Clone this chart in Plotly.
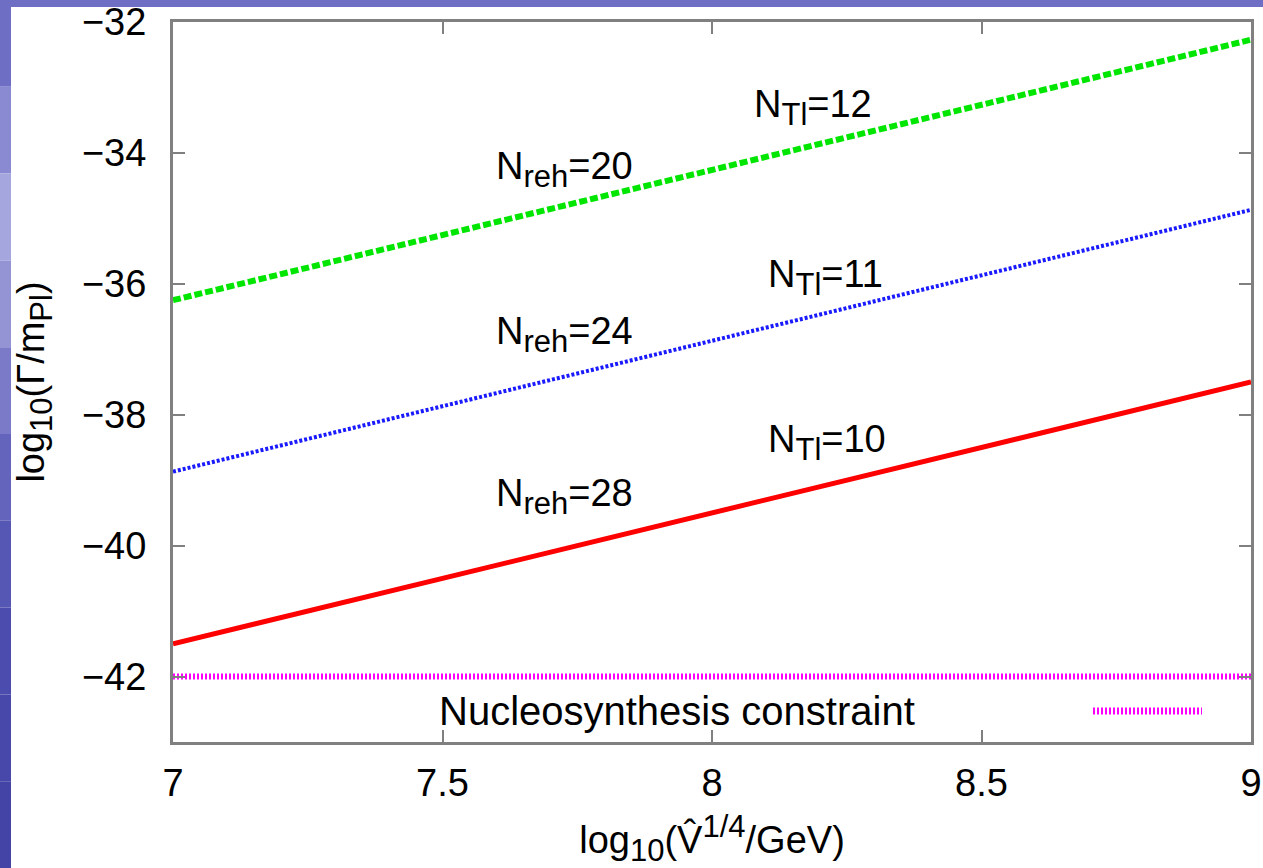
import plotly.graph_objects as go

# ---- data ----
x_vals = [7.0, 9.0]
green_n12 = [-36.25, -32.27]
blue_n11 = [-38.87, -34.87]
red_n10 = [-41.5, -37.5]
bbn_x = [7.0, 9.0]
bbn_y = [-42.0, -42.0]

x_ticks = [7, 7.5, 8, 8.5, 9]
x_tick_text = ["7", "7.5", "8", "8.5", "9"]
y_ticks = [-32, -34, -36, -38, -40, -42]


def sub(t):
    return "<sub><span style='font-size:31px'>" + t + "</span></sub>"


def sup(t):
    return "<sup><span style='font-size:31px'>" + t + "</span></sup>"


labels = [
    # (x, y, text)
    (7.595, -34.25, "N" + sub("reh") + "=20"),
    (8.075, -33.3, "N" + sub("Tl") + "=12"),
    (7.595, -36.77, "N" + sub("reh") + "=24"),
    (8.1, -35.9, "N" + sub("Tl") + "=11"),
    (7.595, -39.25, "N" + sub("reh") + "=28"),
    (8.1, -38.42, "N" + sub("Tl") + "=10"),
]

FONT = "Liberation Sans, Arial, sans-serif"
FS = 38

L, R, T, B = 173, 12, 22, 126
PW = 1263 - L - R
PH = 868 - T - B

fig = go.Figure()
fig.add_trace(go.Scatter(x=x_vals, y=green_n12, mode="lines",
                         line=dict(color="#00e600", width=6, dash="8px,3px"),
                         showlegend=False))
fig.add_trace(go.Scatter(x=x_vals, y=blue_n11, mode="lines",
                         line=dict(color="#1a1aff", width=4, dash="3px,2px"),
                         showlegend=False))
fig.add_trace(go.Scatter(x=x_vals, y=red_n10, mode="lines",
                         line=dict(color="#ff0000", width=5),
                         showlegend=False))
fig.add_trace(go.Scatter(x=bbn_x, y=bbn_y, mode="lines",
                         line=dict(color="#ff00ff", width=6, dash="2px,2px"),
                         showlegend=False))

annotations = []
for (lx, ly, t) in labels:
    annotations.append(dict(x=lx, y=ly, xref="x", yref="y", text=t,
                            showarrow=False, xanchor="left", yanchor="middle",
                            font=dict(family=FONT, size=FS, color="black")))
annotations.append(dict(x=(917 - L) / PW, y=1 - (711 - T) / PH,
                        xref="paper", yref="paper",
                        text="Nucleosynthesis constraint", showarrow=False,
                        xanchor="right", yanchor="middle",
                        font=dict(family=FONT, size=40, color="black")))

shapes = []
# background (blue slide frame with white slide area)
bands = ["#6e6ec4", "#8a8ad2", "#a6a6de", "#9494d4", "#7a7ac8", "#6464bc",
         "#5656b4", "#4c4cae", "#4848aa", "#4444a6"]
n = len(bands)
for i, c in enumerate(bands):
    y_top = -i * 868 / n
    y_bot = -(i + 1) * 868 / n
    shapes.append(dict(type="rect", xref="paper", yref="paper",
                       x0=-L / PW, x1=(1263 - L) / PW,
                       y0=1 + (T + y_bot) / PH, y1=1 + (T + y_top) / PH,
                       fillcolor=c, line=dict(width=0), layer="below"))
shapes.append(dict(type="rect", xref="paper", yref="paper",
                   x0=(11 - L) / PW, x1=(1263 - L) / PW,
                   y0=-B / PH, y1=1 + (T - 7) / PH,
                   fillcolor="white", line=dict(width=0), layer="below"))
# legend sample
shapes.append(dict(type="line", xref="paper", yref="paper",
                   x0=(1093 - L) / PW, x1=(1202 - L) / PW,
                   y0=1 - (711 - T) / PH, y1=1 - (711 - T) / PH,
                   line=dict(color="#ff00ff", width=7, dash="2px,2px")))

axis_common = dict(showgrid=False, zeroline=False, showline=True,
                   linecolor="#808080", linewidth=3, mirror="ticks",
                   ticks="inside", ticklen=12, tickwidth=2, tickcolor="#808080",
                   automargin=False,
                   tickfont=dict(family=FONT, size=FS, color="black"))

fig.update_layout(
    width=1263, height=868,
    margin=dict(l=L, r=R, t=T, b=B),
    paper_bgcolor="white",
    plot_bgcolor="white",
    xaxis=dict(range=[7, 9], tickvals=x_ticks, ticktext=x_tick_text,
               ticklabelstandoff=5,
               title=dict(text="log" + sub("10") + "(V\u0302" + sup("1/4") + "/GeV)",
                          font=dict(family=FONT, size=FS, color="black"),
                          standoff=29),
               **axis_common),
    yaxis=dict(range=[-43, -32], tickvals=y_ticks, ticklabelstandoff=16,
               title=dict(text="log" + sub("10") + "(Γ/m" + sub("Pl") + ")",
                          font=dict(family=FONT, size=FS, color="black"),
                          standoff=26),
               **axis_common),
    annotations=annotations,
    shapes=shapes,
)

fig.write_html(
    "out.html",
    config={"displayModeBar": False},
    post_script="document.body.style.margin='0';document.body.style.padding='0';"
                "document.body.style.overflow='hidden';",
)
